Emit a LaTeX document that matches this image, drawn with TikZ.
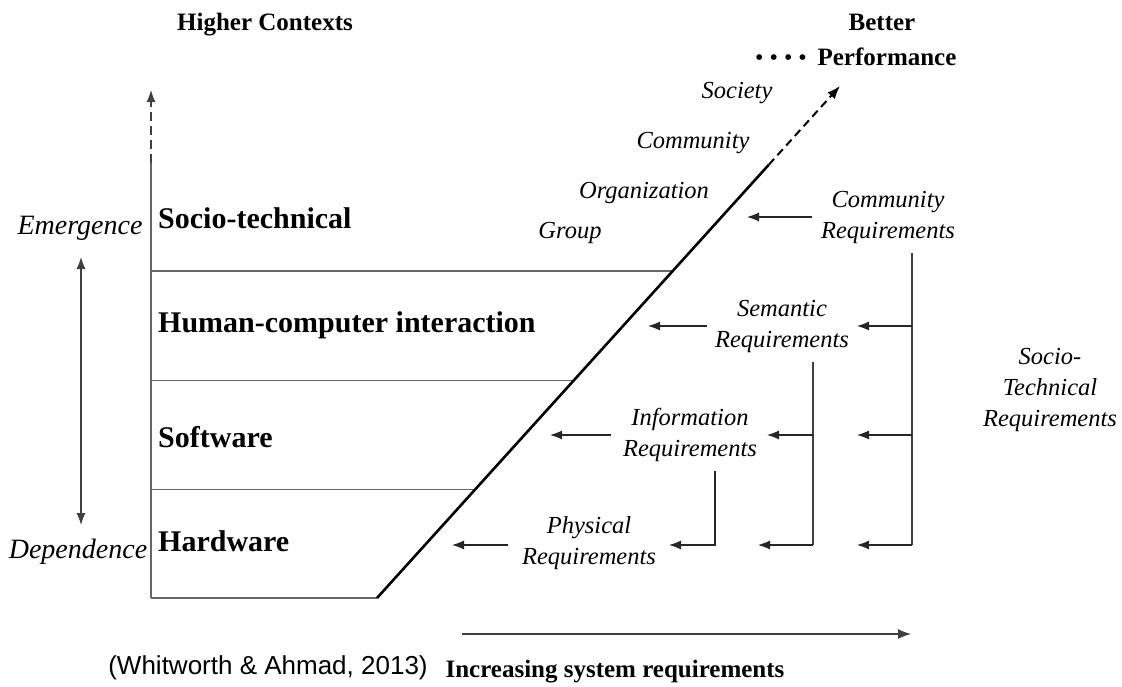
\documentclass[tikz,border=0pt]{standalone}
\usepackage{fontspec}
\setmainfont{Liberation Serif}
\newfontfamily\arialf{Liberation Sans}
\usetikzlibrary{arrows.meta,calc}
\begin{document}
\begin{tikzpicture}[x=1pt,y=-1pt,
  frame/.style={draw=black!60,line width=1.1pt},
  bus/.style={draw=black!75,line width=1.1pt},
  arr/.style={draw=black!85,line width=1.1pt,-{Latex[length=12pt,width=9pt]}},
  lvl/.style={font=\fontsize{30}{30}\selectfont\bfseries,anchor=west,inner sep=0pt},
  it/.style={font=\fontsize{24.5}{31}\selectfont\itshape,align=center,inner sep=0pt},
  bigit/.style={font=\fontsize{28}{30}\selectfont\itshape,inner sep=0pt},
  hd/.style={font=\fontsize{25}{34}\selectfont\bfseries,align=center,inner sep=0pt},
]
\useasboundingbox (0,0) rectangle (1122,687);

% headings
\node[hd] (higher) at (265,25) {Higher Contexts};
\node[hd] (better) at (882,22) {Better};
\node[hd] (perf) at (887,57) {Performance};
\node[font=\fontsize{24}{24}\selectfont,inner sep=0pt] (dots) at (781,60) {•\hspace{6pt}•\hspace{6pt}•\hspace{6pt}•};

% left axis
\coordinate (ax0) at (151,598);
\coordinate (ax1) at (151,163);
\coordinate (ax2) at (151,90);
\draw[frame] (ax0) -- (ax1);
\draw[draw=black!75,line width=1.2pt,dash pattern=on 9pt off 5pt,-{Latex[length=12pt,width=9pt]}] (ax1) -- (ax2);

% frame lines
\coordinate (b0) at (377,598);
\coordinate (ptip) at (840,86);
\coordinate (dmid) at ($(b0)!0.846!(ptip)$);
\draw[frame] (ax0) -- (b0);
\draw[frame] (151,271) -- (672.7,271);
\draw[frame] (151,380.7) -- (573.5,380.7);
\draw[frame] (151,489.5) -- (475.3,489.5);
\draw[black,line width=2.6pt] (b0) -- (dmid);
\draw[black,line width=2pt,dash pattern=on 8pt off 5pt,-{Latex[length=13pt,width=10pt]}] (dmid) -- (ptip);

% row labels
\node[lvl] (st) at (158,218) {Socio-technical};
\node[lvl] (hci) at (158,325) {Human-computer interaction};
\node[lvl] (sw) at (158,437) {Software};
\node[lvl] (hw) at (158,541) {Hardware};

% emergence / dependence
\node[bigit] (em) at (80,228) {Emergence};
\node[bigit] (dep) at (78,552) {Dependence};
\coordinate (eu) at (81,257);
\coordinate (ed) at (81,525);
\draw[draw=black!75,line width=1.1pt,{Latex[length=12pt,width=9pt]}-{Latex[length=12pt,width=9pt]}] (eu) -- (ed);

% contexts
\node[it] (soc) at (737,93) {Society};
\node[it] (com) at (693,143) {Community};
\node[it] (org) at (644,193) {Organization};
\node[it] (grp) at (570,233) {Group};

% requirements
\node[it] (cr) at (888,217) {Community\\Requirements};
\node[it] (sr) at (782,326) {Semantic\\Requirements};
\node[it] (ir) at (690,435) {Information\\Requirements};
\node[it] (pr) at (589,543) {Physical\\Requirements};
\node[it] (str) at (1050,390) {Socio-\\Technical\\Requirements};

\coordinate (crt) at (747,217);
\coordinate (srt) at (648,326);
\coordinate (irt) at (550,435);
\coordinate (prt) at (452,545);
\draw[arr] ([xshift=-9pt]cr.west) -- (crt);
\draw[arr] ([xshift=-8pt]sr.west) -- (srt);
\draw[arr] ([xshift=-12pt]ir.west) -- (irt);
\draw[arr] (508,545) -- (prt);

% buses
\coordinate (r0) at (912,253);
\coordinate (r3) at (912,545);
\draw[bus] (r0) -- (r3);
\draw[arr] (912,326) -- (857,326);
\draw[arr] (912,435) -- (857,435);
\draw[arr] (r3) -- (857,545);

\coordinate (s0) at (813,362);
\coordinate (s3) at (813,545);
\draw[bus] (s0) -- (s3);
\draw[arr] (813,435) -- (767,435);
\draw[arr] (s3) -- (758,545);

\coordinate (i0) at (715,471);
\coordinate (i3) at (715,545);
\draw[arr] (i0) -- (i3) -- (669,545);

% bottom
\coordinate (x0) at (462,634);
\coordinate (x1) at (911,634);
\draw[draw=black!75,line width=1.2pt,-{Latex[length=13pt,width=10pt]}] (x0) -- (x1);
\node[hd,font=\fontsize{25}{30}\selectfont\bfseries] (inc) at (615,672) {Increasing system requirements};
\node[font=\arialf\fontsize{26}{30}\selectfont,inner sep=0pt] (cite) at (268,668) {(Whitworth \& Ahmad, 2013)};
\end{tikzpicture}
\end{document}
